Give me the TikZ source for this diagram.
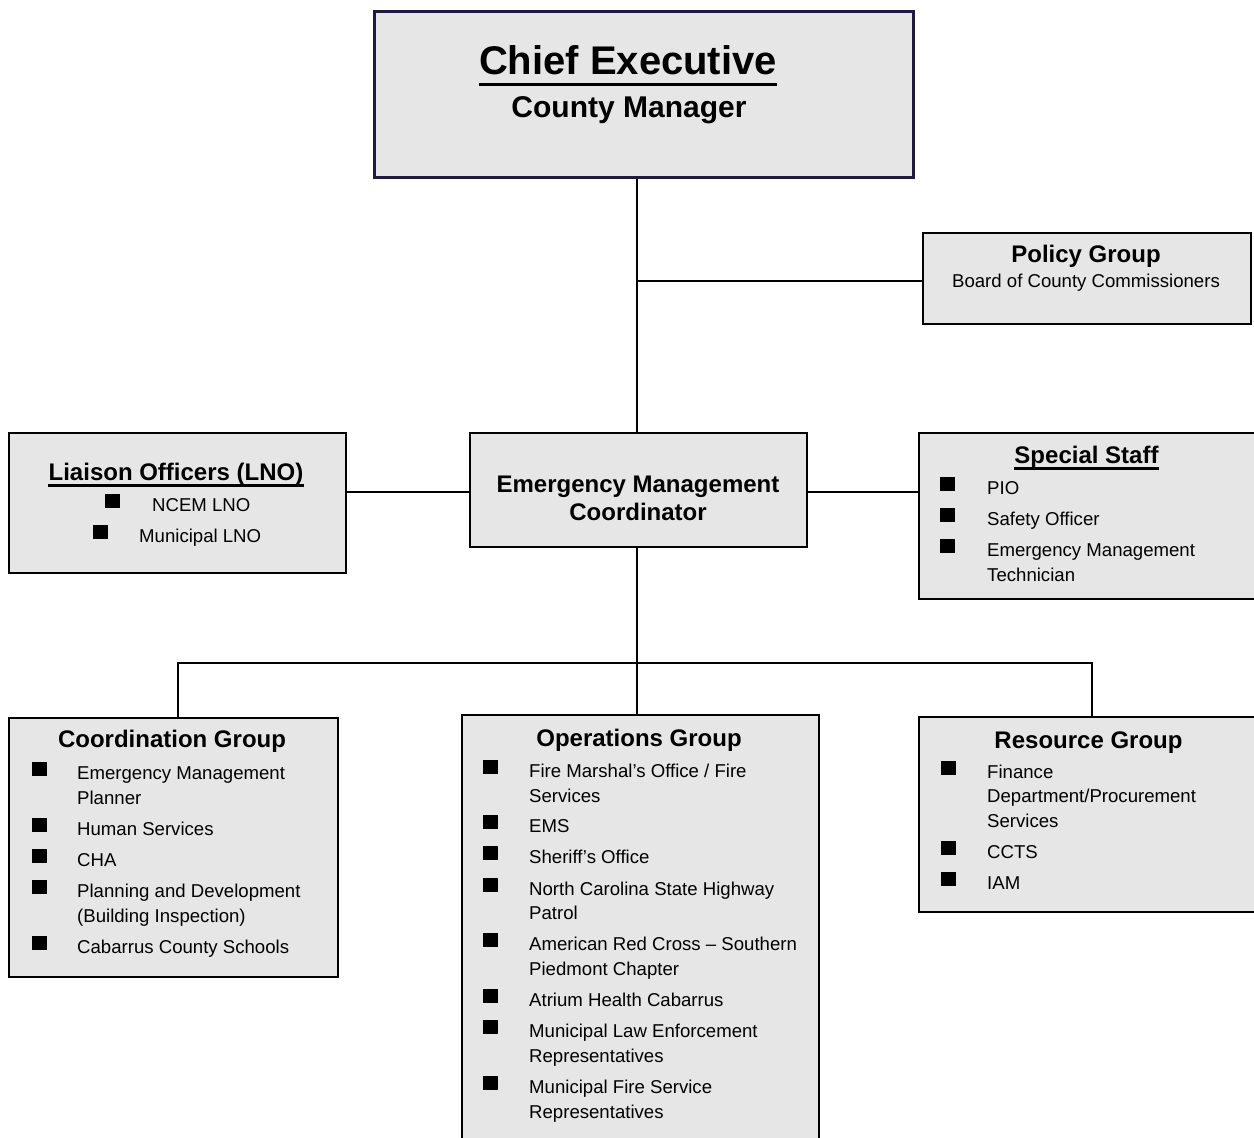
\documentclass[tikz,border=0pt]{standalone}
\usepackage{fontspec}
\setmainfont{Liberation Sans}
\definecolor{boxfill}{HTML}{E6E6E6}
\definecolor{chiefline}{RGB}{32,26,64}
\tikzset{
  box/.style={draw=black, line width=2pt, fill=boxfill, rectangle, anchor=north west, inner sep=0pt},
  link/.style={draw=black, line width=1.5pt},
  bullet/.style={fill=black, rectangle, minimum width=15pt, minimum height=14pt, inner sep=0pt},
  itemtext/.style={anchor=base west, inner sep=0pt, font=\fontsize{18.6}{22}\selectfont},
  head/.style={anchor=base, inner sep=0pt, font=\bfseries\fontsize{24}{28}\selectfont},
  sub/.style={anchor=base, inner sep=0pt, font=\fontsize{18.6}{22}\selectfont},
  uline/.style={draw=black, line width=2.5pt},
}
% bulleted entry: name, bullet x, bullet y, text x, baseline, text
\newcommand{\bulletline}[6]{%
  \node[bullet] (#1b) at (#2,#3) {};
  \node[itemtext] (#1) at (#4,#5) {#6};}
% continuation line of an entry: name, text x, baseline, text
\newcommand{\moreline}[4]{%
  \node[itemtext] (#1) at (#2,#3) {#4};}

\begin{document}
\begin{tikzpicture}[x=1pt, y=-1pt]
\useasboundingbox (0,0) rectangle (1254,1138);
\clip (0,0) rectangle (1254,1138);
\fill[white] (0,0) rectangle (1254,1138);

% ---- boxes ----
\node[box, draw=chiefline, line width=3pt, minimum width=539pt, minimum height=166pt] (chief) at (373,10) {};
\node[box, minimum width=328pt, minimum height=91pt] (policy) at (922,232) {};
\node[box, minimum width=337pt, minimum height=140pt] (liaison) at (8,432) {};
\node[box, minimum width=337pt, minimum height=114pt] (emc) at (469,432) {};
\node[box, minimum width=350pt, minimum height=166pt] (special) at (918,432) {};
\node[box, minimum width=329pt, minimum height=259pt] (coord) at (8,717) {};
\node[box, minimum width=357pt, minimum height=440pt] (ops) at (461,714) {};
\node[box, minimum width=350pt, minimum height=195pt] (res) at (918,716) {};

% ---- connectors ----
\coordinate (pj) at (637,281);
\coordinate (mj) at (637,492);
\coordinate (bus) at (637,663);
\coordinate (bl) at (178,663);
\coordinate (br) at (1092,663);
\draw[link] (chief.south -| pj) -- (emc.north -| pj);
\draw[link] (pj) -- (policy.west |- pj);
\draw[link] (liaison.east |- mj) -- (emc.west |- mj);
\draw[link] (emc.east |- mj) -- (special.west |- mj);
\draw[link] (emc.south -| bus) -- (bus);
\draw[link] (bl |- coord.north) -- (bl) -- (br) -- (br |- res.north);
\draw[link] (bus) -- (bus |- ops.north);

% ---- chief executive ----
\node[anchor=base, inner sep=0pt, font=\bfseries\fontsize{40}{48}\selectfont] (chieft) at (628,74) {Chief Executive};
\draw[black, line width=3.5pt] ([yshift=-10.5pt]chieft.base west) -- ([yshift=-10.5pt]chieft.base east);
\node[anchor=base, inner sep=0pt, font=\bfseries\fontsize{30}{36}\selectfont] (chiefs) at (629,117) {County Manager};

% ---- policy group ----
\node[head] (policyt) at (1086,262) {Policy Group};
\node[sub] (policys) at (1086,287) {Board of County Commissioners};

% ---- emergency management coordinator ----
\node[head] (emct1) at (638,492) {Emergency Management};
\node[head] (emct2) at (638,520) {Coordinator};

% ---- liaison officers ----
\node[head] (lnot) at (176,480) {Liaison Officers (LNO)};
\draw[uline] ([yshift=-5.5pt]lnot.base west) -- ([yshift=-5.5pt]lnot.base east);
\bulletline{lno1}{112.5}{500.5}{152}{511}{NCEM LNO}
\bulletline{lno2}{100.5}{531.5}{139}{542}{Municipal LNO}

% ---- special staff ----
\node[head] (spt) at (1086.5,463) {Special Staff};
\draw[uline] ([yshift=-5.5pt]spt.base west) -- ([yshift=-5.5pt]spt.base east);
\bulletline{sp1}{947.5}{484}{987}{494}{PIO}
\bulletline{sp2}{947.5}{515}{987}{525}{Safety Officer}
\bulletline{sp3}{947.5}{546}{987}{556}{Emergency Management}
\moreline{sp3a}{987}{581}{Technician}

% ---- coordination group ----
\node[head] (cot) at (172,747) {Coordination Group};
\bulletline{co1}{39}{769}{77}{779}{Emergency Management}
\moreline{co1a}{77}{804}{Planner}
\bulletline{co2}{39}{825}{77}{835}{Human Services}
\bulletline{co3}{39}{856}{77}{866}{CHA}
\bulletline{co4}{39}{887}{77}{897}{Planning and Development}
\moreline{co4a}{77}{922}{(Building Inspection)}
\bulletline{co5}{39}{943}{77}{953}{Cabarrus County Schools}

% ---- operations group ----
\node[head] (opt) at (639,746) {Operations Group};
\bulletline{op1}{490}{767}{529}{777}{Fire Marshal’s Office / Fire}
\moreline{op1a}{529}{802}{Services}
\bulletline{op2}{490}{822}{529}{832}{EMS}
\bulletline{op3}{490}{853}{529}{863}{Sheriff’s Office}
\bulletline{op4}{490}{885}{529}{895}{North Carolina State Highway}
\moreline{op4a}{529}{919}{Patrol}
\bulletline{op5}{490}{940}{529}{950}{American Red Cross – Southern}
\moreline{op5a}{529}{975}{Piedmont Chapter}
\bulletline{op6}{490}{996}{529}{1006}{Atrium Health Cabarrus}
\bulletline{op7}{490}{1027}{529}{1037}{Municipal Law Enforcement}
\moreline{op7a}{529}{1062}{Representatives}
\bulletline{op8}{490}{1083}{529}{1093}{Municipal Fire Service}
\moreline{op8a}{529}{1118}{Representatives}

% ---- resource group ----
\node[head] (rst) at (1088.5,748) {Resource Group};
\bulletline{rs1}{948}{768}{987}{778}{Finance}
\moreline{rs1a}{987}{802}{Department/Procurement}
\moreline{rs1b}{987}{827}{Services}
\bulletline{rs2}{948}{848}{987}{858}{CCTS}
\bulletline{rs3}{948}{879}{987}{889}{IAM}
\end{tikzpicture}
\end{document}
